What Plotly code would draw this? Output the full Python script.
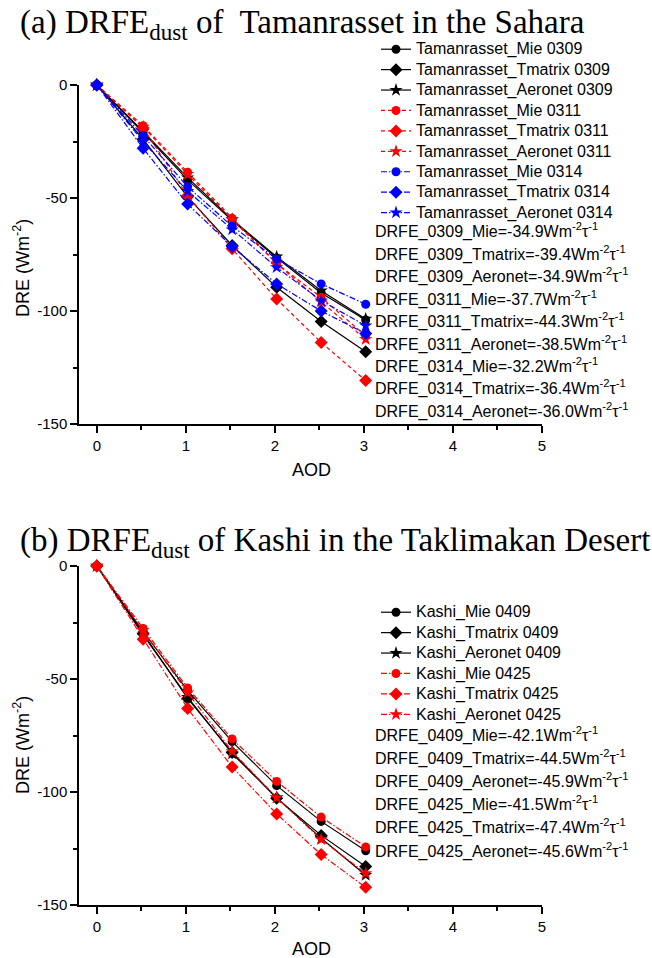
import plotly.graph_objects as go

W, H = 652, 958

# ---------------- data ----------------
aod = [0, 0.52, 1.02, 1.52, 2.02, 2.52, 3.02]

# (a) Tamanrasset
tam_mie_0309 = [0, -21, -42, -60, -76.5, -92, -104]
tam_tmatrix_0309 = [0, -24, -49.5, -71, -89.5, -104.6, -118]
tam_aeronet_0309 = [0, -20.5, -41, -59.5, -76, -91, -103.5]
tam_mie_0311 = [0, -18, -38.6, -59, -79, -94, -111]
tam_tmatrix_0311 = [0, -19, -49, -72.5, -94.7, -113.9, -130.8]
tam_aeronet_0311 = [0, -18.5, -39.5, -59.5, -79, -96, -112.5]
tam_mie_0314 = [0, -22.5, -45, -62.5, -77, -88, -97]
tam_tmatrix_0314 = [0, -28, -52.7, -71.5, -88, -100, -110]
tam_aeronet_0314 = [0, -25, -47, -64, -80.7, -95.4, -106.5]

tam_names = ["Tamanrasset_Mie 0309", "Tamanrasset_Tmatrix 0309", "Tamanrasset_Aeronet 0309",
             "Tamanrasset_Mie 0311", "Tamanrasset_Tmatrix 0311", "Tamanrasset_Aeronet 0311",
             "Tamanrasset_Mie 0314", "Tamanrasset_Tmatrix 0314", "Tamanrasset_Aeronet 0314"]
tam_series = [tam_mie_0309, tam_tmatrix_0309, tam_aeronet_0309,
              tam_mie_0311, tam_tmatrix_0311, tam_aeronet_0311,
              tam_mie_0314, tam_tmatrix_0314, tam_aeronet_0314]
tam_drfe = ["DRFE_0309_Mie=-34.9", "DRFE_0309_Tmatrix=-39.4", "DRFE_0309_Aeronet=-34.9",
            "DRFE_0311_Mie=-37.7", "DRFE_0311_Tmatrix=-44.3", "DRFE_0311_Aeronet=-38.5",
            "DRFE_0314_Mie=-32.2", "DRFE_0314_Tmatrix=-36.4", "DRFE_0314_Aeronet=-36.0"]

# (b) Kashi
kas_mie_0409 = [0, -29, -55, -77.7, -97.2, -113, -126]
kas_tmatrix_0409 = [0, -30, -58.6, -82.5, -102.8, -119.2, -133]
kas_aeronet_0409 = [0, -30.5, -58, -83, -102.5, -120.5, -136.8]
kas_mie_0425 = [0, -27.6, -54, -76.5, -95.3, -111.1, -124.3]
kas_tmatrix_0425 = [0, -32.4, -63, -88.9, -109.7, -127.7, -142.2]
kas_aeronet_0425 = [0, -28.5, -56, -82, -102.5, -121, -136]

kas_names = ["Kashi_Mie 0409", "Kashi_Tmatrix 0409", "Kashi_Aeronet 0409",
             "Kashi_Mie 0425", "Kashi_Tmatrix 0425", "Kashi_Aeronet 0425"]
kas_series = [kas_mie_0409, kas_tmatrix_0409, kas_aeronet_0409,
              kas_mie_0425, kas_tmatrix_0425, kas_aeronet_0425]
kas_drfe = ["DRFE_0409_Mie=-42.1", "DRFE_0409_Tmatrix=-44.5", "DRFE_0409_Aeronet=-45.9",
            "DRFE_0425_Mie=-41.5", "DRFE_0425_Tmatrix=-47.4", "DRFE_0425_Aeronet=-45.6"]

y_ticks = [-150, -100, -50, 0]
x_ticks = [0, 1, 2, 3, 4, 5]

# ---------------- styles ----------------
symbols = ["circle", "diamond", "star"]
msizes = [9, 10, 10]
tam_styles = [("#000000", "solid"), ("#FF0000", "4px,3px"), ("#0000FF", "6px,2px,1.5px,2px")]
kas_styles = [("#000000", "solid"), ("#FF0000", "6px,2px,1.5px,2px")]

SANS = "Liberation Sans, Arial, sans-serif"
SERIF = "Liberation Serif, Times New Roman, serif"

def px_x(p):
    return p / W

def px_y(p):
    return 1 - p / H

fig = go.Figure()

for i, (name, ys) in enumerate(zip(tam_names, tam_series)):
    color, dash = tam_styles[i // 3]
    fig.add_trace(go.Scatter(
        x=aod, y=ys, mode="lines+markers", xaxis="x", yaxis="y",
        name='<span style="font-size:16px">' + name + '</span>', legend="legend",
        line=dict(color=color, width=1.2, dash=dash),
        marker=dict(symbol=symbols[i % 3], size=msizes[i % 3], color=color),
        cliponaxis=False))

for i, (name, ys) in enumerate(zip(kas_names, kas_series)):
    color, dash = kas_styles[i // 3]
    fig.add_trace(go.Scatter(
        x=aod, y=ys, mode="lines+markers", xaxis="x2", yaxis="y2",
        name='<span style="font-size:16px">' + name + '</span>', legend="legend2",
        line=dict(color=color, width=1.2, dash=dash),
        marker=dict(symbol=symbols[i % 3], size=msizes[i % 3], color=color),
        cliponaxis=False))

xdom = [px_x(79), px_x(542)]

def xax(anchor):
    return dict(domain=xdom, anchor=anchor, range=[-0.2, 5], tickmode="array",
                tickvals=x_ticks, ticktext=[str(v) for v in x_ticks],
                showline=True, linecolor="black", linewidth=1.5, showgrid=False, zeroline=False,
                ticks="outside", ticklen=7, tickwidth=1.5, tickcolor="black",
                minor=dict(dtick=0.5, tick0=0, ticks="outside", ticklen=4, tickwidth=1.5, tickcolor="black"),
                tickfont=dict(family=SANS, size=15, color="black"))

def yax(anchor, top, bottom):
    return dict(domain=[px_y(bottom), px_y(top)], anchor=anchor, range=[-150, 0], tickmode="array",
                tickvals=y_ticks, ticktext=[str(v) for v in y_ticks],
                showline=True, linecolor="black", linewidth=1.5, showgrid=False, zeroline=False,
                ticks="outside", ticklen=7, tickwidth=1.5, tickcolor="black",
                minor=dict(dtick=25, tick0=0, ticks="outside", ticklen=4, tickwidth=1.5, tickcolor="black"),
                tickfont=dict(family=SANS, size=15, color="black"))

annotations = []
# titles
annotations.append(dict(text="(a) DRFE<sub>dust</sub> of  Tamanrasset in the Sahara",
                        x=px_x(18), y=px_y(24), xref="paper", yref="paper", xanchor="left", yanchor="middle",
                        showarrow=False, font=dict(family=SERIF, size=33, color="black")))
annotations.append(dict(text="(b) DRFE<sub>dust</sub> of Kashi in the Taklimakan Desert",
                        x=px_x(18), y=px_y(542), xref="paper", yref="paper", xanchor="left", yanchor="middle",
                        showarrow=False, font=dict(family=SERIF, size=33, color="black")))
# axis titles
for yc in (268, 745):
    annotations.append(dict(text="DRE (Wm<sup>-2</sup>)", x=px_x(21), y=px_y(yc), xref="paper", yref="paper",
                            xanchor="center", yanchor="middle", textangle=-90, showarrow=False,
                            font=dict(family=SANS, size=18, color="black")))
for yc in (470, 949):
    annotations.append(dict(text="AOD", x=px_x(311), y=px_y(yc), xref="paper", yref="paper",
                            xanchor="center", yanchor="middle", showarrow=False,
                            font=dict(family=SANS, size=18, color="black")))
# DRFE text rows
for k, t in enumerate(tam_drfe):
    annotations.append(dict(text=t + "Wm<sup>-2</sup>τ<sup>-1</sup>", x=px_x(373), y=px_y(231 + 22.4 * k),
                            xref="paper", yref="paper", xanchor="left", yanchor="middle", showarrow=False,
                            font=dict(family=SANS, size=16, color="black")))
for k, t in enumerate(kas_drfe):
    annotations.append(dict(text=t + "Wm<sup>-2</sup>τ<sup>-1</sup>", x=px_x(373), y=px_y(734 + 23.2 * k),
                            xref="paper", yref="paper", xanchor="left", yanchor="middle", showarrow=False,
                            font=dict(family=SANS, size=16, color="black")))

leg_common = dict(xanchor="left", yanchor="top", bgcolor="rgba(0,0,0,0)", borderwidth=0,
                  font=dict(family=SANS, size=13.4, color="black"), tracegroupgap=0)

fig.update_layout(
    width=W, height=H,
    margin=dict(l=0, r=0, t=0, b=0, autoexpand=False),
    paper_bgcolor="white", plot_bgcolor="white",
    xaxis=xax("y"), yaxis=yax("x", 85, 424),
    xaxis2=xax("y2"), yaxis2=yax("x2", 566, 905),
    legend=dict(x=px_x(376), y=px_y(34), **leg_common),
    legend2=dict(x=px_x(376), y=px_y(597), **leg_common),
    annotations=annotations,
    showlegend=True,
)

fig.write_html("out.html")
